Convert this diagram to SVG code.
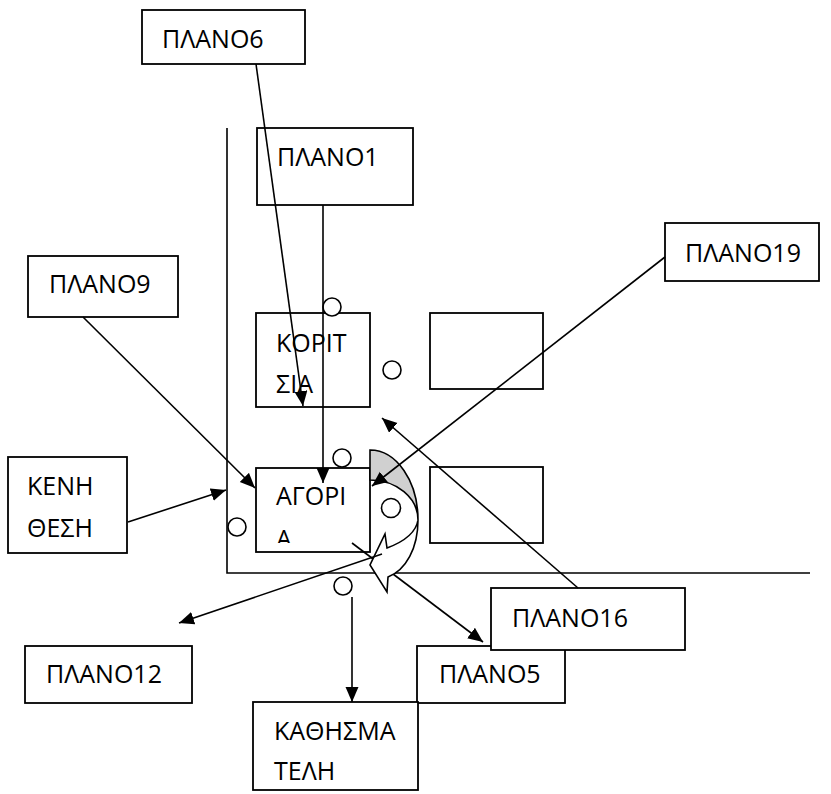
<svg xmlns="http://www.w3.org/2000/svg" width="831" height="794" viewBox="0 0 831 794">
<style>
.box{fill:#fff;stroke:#000;stroke-width:1.8}
.ln{fill:none;stroke:#000;stroke-width:1.6}
.c{fill:#fff;stroke:#000;stroke-width:1.6}
.t{font-family:"Open Sans","Noto Sans",sans-serif;font-size:25px;fill:#000}
</style>
<defs>
<marker id="ah" markerUnits="userSpaceOnUse" markerWidth="16" markerHeight="14" refX="15" refY="6.5" orient="auto">
<path d="M0,0 L15,6.5 L0,13 z" fill="#000"/>
</marker>
<clipPath id="agclip"><rect x="256" y="468" width="114" height="75"/></clipPath>
</defs>
<rect width="831" height="794" fill="#fff"/>
<g id="axes">
<path class="ln" d="M227,128 V573 H810"/>
</g>
<g id="plano6"><rect class="box" x="142" y="10" width="163" height="54"/><text class="t" x="162" y="48">ΠΛΑΝΟ6</text></g>
<g id="plano1"><rect class="box" x="257" y="128" width="156" height="77"/><text class="t" x="277" y="166">ΠΛΑΝΟ1</text></g>
<g id="plano19"><rect class="box" x="665" y="223" width="154" height="58"/><text class="t" x="685" y="262">ΠΛΑΝΟ19</text></g>
<g id="plano9"><rect class="box" x="28" y="256" width="150" height="61"/><text class="t" x="49" y="293">ΠΛΑΝΟ9</text></g>
<g id="koritsia"><rect class="box" x="256" y="313" width="114" height="94" fill-opacity="0"/><text class="t" x="276" y="352">ΚΟΡΙΤ</text><text class="t" x="276" y="393">ΣΙΑ</text></g>
<g id="box-right-top"><rect class="box" x="430" y="313" width="113" height="76"/></g>
<g id="box-right-bottom"><rect class="box" x="430" y="467" width="113" height="76"/></g>
<g id="kenh"><rect class="box" x="8" y="457" width="119" height="96"/><text class="t" x="27" y="495">ΚΕΝΗ</text><text class="t" x="27" y="537">ΘΕΣΗ</text></g>
<g id="agoria"><rect class="box" x="256" y="468" width="114" height="84" fill-opacity="0"/><text class="t" x="276" y="505">ΑΓΟΡΙ</text><text class="t" x="276" y="548" clip-path="url(#agclip)">Α</text></g>
<g id="plano12"><rect class="box" x="25" y="646" width="167" height="57"/><text class="t" x="46" y="683">ΠΛΑΝΟ12</text></g>
<g id="plano5"><rect class="box" x="417" y="646" width="148" height="57"/><text class="t" x="439" y="683">ΠΛΑΝΟ5</text></g>
<g id="plano16"><rect class="box" x="491" y="588" width="194" height="62"/><text class="t" x="512" y="627">ΠΛΑΝΟ16</text></g>
<g id="kathisma"><rect class="box" x="253" y="702" width="165" height="88"/><text class="t" x="274" y="740">ΚΑΘΗΣΜΑ</text><text class="t" x="274" y="780">ΤΕΛΗ</text></g>
<g id="circles">
<circle class="c" cx="332" cy="307" r="9"/>
<circle class="c" cx="392" cy="370" r="9"/>
<circle class="c" cx="342" cy="458" r="9"/>
<circle class="c" cx="237" cy="527" r="9"/>
<circle class="c" cx="343" cy="586" r="9"/>
</g>
<g id="curved-arrow-back">
<path d="M370,450 A48,70 0 0 1 418,520 A48,40 0 0 0 370,480 Z" fill="#d0d0d0" stroke="#000" stroke-width="1.6"/>
</g>
<g id="connectors">
<line class="ln" x1="352" y1="543" x2="483" y2="642" marker-end="url(#ah)"/>
<line class="ln" x1="256" y1="64" x2="303" y2="406" marker-end="url(#ah)"/>
<line class="ln" x1="323" y1="205" x2="323" y2="483" marker-end="url(#ah)"/>
<line class="ln" x1="83" y1="317" x2="255" y2="488" marker-end="url(#ah)"/>
<line class="ln" x1="128" y1="522" x2="226" y2="490" marker-end="url(#ah)"/>
<line class="ln" x1="665" y1="257" x2="372" y2="486" marker-end="url(#ah)"/>
<line class="ln" x1="578" y1="588" x2="382" y2="418" marker-end="url(#ah)"/>
<line class="ln" x1="352" y1="597" x2="352" y2="702" marker-end="url(#ah)"/>
</g>
<g id="curved-arrow-front">
<path d="M418,520 C418,548 406,570 388,577 L387,592 L370,565 L385,534 L387,548 C403,542 416,533 418,520 Z" fill="#fff" stroke="#000" stroke-width="1.6" stroke-linejoin="miter"/>
<circle class="c" cx="391" cy="508" r="9.5"/>
</g>
<g id="connectors-top">
<line class="ln" x1="382" y1="554" x2="179" y2="623" marker-end="url(#ah)"/>
</g>
</svg>
